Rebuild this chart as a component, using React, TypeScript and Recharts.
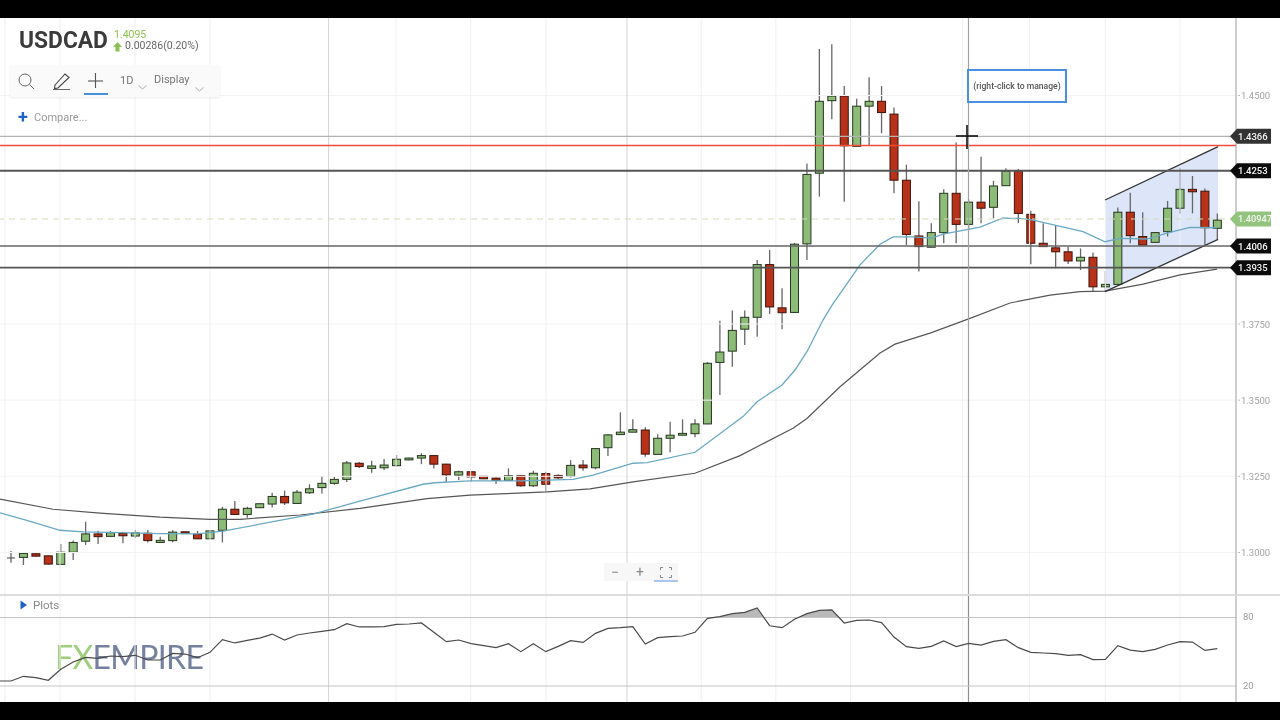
import { Area, Bar, ComposedChart, Line, ReferenceLine, XAxis, YAxis } from 'recharts'

const opens = [1.2982, 1.2984, 1.2996, 1.2989, 1.2961, 1.3001, 1.3037, 1.3061, 1.3053, 1.3063, 1.3054, 1.3063, 1.3033, 1.3039, 1.3068, 1.306, 1.3045, 1.3073, 1.3142, 1.3125, 1.3147, 1.3159, 1.3184, 1.3161, 1.3196, 1.3213, 1.3227, 1.324, 1.3293, 1.3276, 1.3278, 1.3285, 1.3304, 1.331, 1.3318, 1.329, 1.3254, 1.3265, 1.325, 1.3244, 1.3237, 1.3252, 1.3219, 1.3259, 1.3253, 1.325, 1.3287, 1.3278, 1.3344, 1.3387, 1.3395, 1.3402, 1.3322, 1.3375, 1.3385, 1.339, 1.3422, 1.3624, 1.3661, 1.3733, 1.3772, 1.3945, 1.3803, 1.3788, 1.4013, 1.4245, 1.4483, 1.4498, 1.4333, 1.4465, 1.4481, 1.4439, 1.4222, 1.4039, 1.4002, 1.405, 1.4179, 1.4077, 1.415, 1.4133, 1.4204, 1.4252, 1.411, 1.4015, 1.4, 1.3987, 1.3957, 1.3969, 1.3872, 1.388, 1.4117, 1.4037, 1.4018, 1.4053, 1.413, 1.4192, 1.4186, 1.4064]
const highs = [1.3005, 1.2998, 1.2997, 1.299, 1.3028, 1.3039, 1.3101, 1.3071, 1.3071, 1.3068, 1.3074, 1.3074, 1.3052, 1.3073, 1.3069, 1.3071, 1.3074, 1.315, 1.3169, 1.315, 1.3161, 1.3196, 1.3203, 1.3205, 1.3224, 1.3251, 1.3248, 1.33, 1.3297, 1.3301, 1.3307, 1.332, 1.3311, 1.3326, 1.332, 1.3291, 1.3268, 1.3266, 1.3251, 1.3246, 1.3276, 1.3254, 1.3268, 1.3265, 1.3257, 1.3303, 1.3304, 1.3342, 1.3389, 1.346, 1.3437, 1.3411, 1.3388, 1.3429, 1.3437, 1.3437, 1.3625, 1.3761, 1.3794, 1.3794, 1.396, 1.3993, 1.3867, 1.4016, 1.4277, 1.4653, 1.4668, 1.4531, 1.4489, 1.456, 1.4531, 1.4461, 1.4273, 1.4153, 1.4081, 1.4192, 1.4346, 1.416, 1.4299, 1.422, 1.4261, 1.4259, 1.4122, 1.4081, 1.4075, 1.4004, 1.3998, 1.3985, 1.3924, 1.4132, 1.4181, 1.4117, 1.4052, 1.4154, 1.4263, 1.4236, 1.4195, 1.4113]
const lows = [1.2966, 1.2959, 1.2987, 1.296, 1.2959, 1.2975, 1.3025, 1.3028, 1.3052, 1.303, 1.3048, 1.3033, 1.3032, 1.3034, 1.3062, 1.3044, 1.3044, 1.3033, 1.3125, 1.3114, 1.3146, 1.3148, 1.3156, 1.3159, 1.3192, 1.3194, 1.3222, 1.3231, 1.3277, 1.3262, 1.3271, 1.3282, 1.3303, 1.329, 1.3276, 1.3231, 1.3238, 1.3232, 1.3241, 1.3225, 1.3235, 1.3216, 1.3216, 1.3198, 1.3241, 1.3246, 1.3268, 1.3273, 1.3317, 1.3387, 1.3395, 1.3314, 1.3322, 1.3329, 1.3385, 1.3378, 1.3421, 1.3517, 1.361, 1.3681, 1.3708, 1.3783, 1.3733, 1.3788, 1.396, 1.4168, 1.4422, 1.4151, 1.4333, 1.4335, 1.4376, 1.4179, 1.4009, 1.3922, 1.4002, 1.4015, 1.4015, 1.406, 1.4081, 1.4097, 1.4204, 1.4081, 1.3946, 1.4004, 1.3933, 1.3947, 1.3927, 1.3856, 1.3856, 1.388, 1.4015, 1.4009, 1.4016, 1.4037, 1.4113, 1.4113, 1.4004, 1.4029]
const closes = [1.2982, 1.2997, 1.2988, 1.2962, 1.3001, 1.3033, 1.3061, 1.3052, 1.3065, 1.3055, 1.3064, 1.3039, 1.304, 1.3067, 1.3063, 1.3045, 1.3071, 1.3142, 1.3125, 1.3145, 1.316, 1.3184, 1.3163, 1.3198, 1.3209, 1.3227, 1.324, 1.3294, 1.3282, 1.3284, 1.3287, 1.3306, 1.331, 1.3318, 1.329, 1.3255, 1.3265, 1.3248, 1.3242, 1.3237, 1.3252, 1.3219, 1.326, 1.3224, 1.3245, 1.3286, 1.3278, 1.3341, 1.3386, 1.3395, 1.3403, 1.3323, 1.3375, 1.3385, 1.3391, 1.3422, 1.3621, 1.3658, 1.3729, 1.3772, 1.3945, 1.3806, 1.3787, 1.4012, 1.4241, 1.4481, 1.4498, 1.4335, 1.4465, 1.4481, 1.4444, 1.4222, 1.4044, 1.4004, 1.405, 1.4179, 1.4077, 1.415, 1.413, 1.4203, 1.4252, 1.4113, 1.4015, 1.4004, 1.3987, 1.3957, 1.3969, 1.3872, 1.388, 1.4117, 1.404, 1.4009, 1.405, 1.413, 1.4192, 1.4184, 1.4066, 1.4091]

const blueMaX = [-0.88, 1.13, 3.94, 5.79, 7.96, 11.98, 14.96, 17.05, 21.07, 24.28, 28.06, 33.13, 34.09, 36.91, 40.93, 45.19, 46.8, 50.02, 51.14, 55, 58.86, 59.99, 62, 63.04, 64, 65.29, 66.02, 68.27, 69.88, 70.92, 72.53, 74.06, 74.94, 77.92, 79.77, 80.33, 81.14, 82.18, 86.2, 87.97, 89.18, 91.35, 92.96, 94.8, 96.98]
const blueMaV = [1.313, 1.3107, 1.3073, 1.3068, 1.3066, 1.3062, 1.3061, 1.307, 1.3101, 1.3126, 1.3169, 1.3224, 1.3229, 1.3235, 1.3235, 1.324, 1.3254, 1.3293, 1.3295, 1.3329, 1.3446, 1.3495, 1.355, 1.3599, 1.3659, 1.3763, 1.3812, 1.3944, 1.4012, 1.4036, 1.4036, 1.4032, 1.4045, 1.4068, 1.4098, 1.4097, 1.4097, 1.4091, 1.4053, 1.402, 1.4031, 1.4029, 1.4048, 1.4067, 1.4066]
const darkMaX = [-0.88, 3.38, 7.16, 11.98, 16, 18.41, 23.24, 28.06, 33.45, 36.91, 43.1, 46.56, 50.02, 55, 58.62, 62.88, 64, 66.66, 69.88, 71.08, 73.9, 76.95, 80.33, 83.55, 85.96, 87.97, 91.03, 94, 96.98]
const darkMaV = [1.3175, 1.3142, 1.3129, 1.3116, 1.3109, 1.3109, 1.3123, 1.3145, 1.3177, 1.3188, 1.3199, 1.3209, 1.3232, 1.326, 1.3318, 1.3408, 1.344, 1.3544, 1.3655, 1.3684, 1.372, 1.3766, 1.3819, 1.3845, 1.3856, 1.3858, 1.3881, 1.3911, 1.393]

const rsiValues = [24.4, 28.5, 27.3, 25, 34.6, 41, 45.1, 44.2, 46.3, 45.7, 46.9, 42.8, 42.8, 48.6, 48, 44.8, 49.5, 60.6, 57.7, 60, 62, 65.5, 60.3, 64.7, 66.4, 67.9, 69.3, 74.6, 71.7, 71.7, 72, 74, 74.3, 75.2, 67, 58.8, 60.3, 57.1, 55.3, 53.6, 57.1, 50.1, 57.1, 50.1, 54.7, 59.7, 58.2, 66.1, 70.5, 71.1, 72, 56.8, 62.3, 63.2, 63.8, 67, 79.3, 80.7, 83.4, 84.5, 88.3, 72.8, 71.1, 78.4, 83.4, 86.3, 86.6, 75.2, 77.5, 77.8, 75.5, 62.9, 54.5, 53, 54.7, 59.4, 54.5, 57.4, 55.9, 59.1, 60.6, 53.6, 49.5, 48.9, 48.3, 46.9, 47.4, 43.1, 43.4, 55.3, 51.5, 50.1, 52.1, 55.9, 58.8, 58.5, 51.2, 52.7]
const overboughtX = [56.5, 57, 58, 59, 60, 60.54]
const overboughtV = [80, 80.7, 83.4, 84.5, 88.3, 80]
const overboughtX2 = [63.32, 64, 65, 66, 66.58]
const overboughtV2 = [80, 83.4, 86.3, 86.6, 80]

const priceTicks = [1.3, 1.325, 1.35, 1.375, 1.45]
const priceTags = [
  { value: 1.4366, text: '1.4366', fill: '#333333' },
  { value: 1.4253, text: '1.4253', fill: '#0c0c0c' },
  { value: 1.40947, text: '1.40947', fill: '#93c47d' },
  { value: 1.4006, text: '1.4006', fill: '#0c0c0c' },
  { value: 1.3935, text: '1.3935', fill: '#0c0c0c' },
]
const gridX = [-0.48, 3.94, 9.97, 16, 30.96, 36.96, 43.02, 55.5, 61.5, 67.5, 76.5, 81.9, 88, 94]
const monthX = [25.54, 49.53]
const cursorX = 76.99
const channelX = [87.97, 97.06]
const channelUpper = [1.4157, 1.4332]
const channelLower = [1.3856, 1.4028]

const candles = opens.map((open, i) => ({ i, open, high: highs[i], low: lows[i], close: closes[i] }))
const blueMa = blueMaX.map((i, k) => ({ i, v: blueMaV[k] }))
const darkMa = darkMaX.map((i, k) => ({ i, v: darkMaV[k] }))
const rsi = [{ i: -0.88, v: rsiValues[0] }, ...rsiValues.map((v, i) => ({ i, v }))]
const shade1 = overboughtX.map((i, k) => ({ i, band: [80, overboughtV[k]] }))
const shade2 = overboughtX2.map((i, k) => ({ i, band: [80, overboughtV2[k]] }))
const channel = channelX.map((i, k) => ({ i, band: [channelLower[k], channelUpper[k]], up: channelUpper[k], down: channelLower[k] }))

const xDomain = [-0.885, 98.5]
const font = 'Roboto, sans-serif'
const bodyWidth = 8

function Candle({ x, y, width, height, payload }: any) {
  const { open, high, low, close } = payload
  const h = Math.abs(height)
  const perUnit = h / (high - low)
  const top = y + (high - Math.max(open, close)) * perUnit
  const bodyH = Math.abs(open - close) * perUnit
  const cx = x + width / 2
  const up = close >= open
  const doji = bodyH === 0
  return (
    <g>
      <line x1={cx} x2={cx} y1={y} y2={y + h} stroke="#666" strokeWidth={1.3} />
      {doji ? (
        <line x1={cx - 4} x2={cx + 4} y1={top} y2={top} stroke="#444" strokeWidth={1} />
      ) : (
        <rect x={cx - bodyWidth / 2} y={top} width={bodyWidth} height={bodyH} fill={up ? '#8dbb78' : '#b8321a'} stroke={up ? '#26361f' : '#3d120a'} strokeWidth={1} />
      )}
    </g>
  )
}

function PriceTick({ x, y, payload }: any) {
  const tag = priceTags.find((t) => t.value === payload.value)
  if (!tag) {
    return (
      <g>
        <line x1={x + 2} x2={x + 4} y1={y} y2={y} stroke="#bbb" />
        <text x={x + 5} y={y + 3.5} fontSize={9.5} fontFamily={font} fill="#a2a2a2">{payload.value.toFixed(4)}</text>
      </g>
    )
  }
  const right = x + 35
  return (
    <g>
      <polygon points={`${x - 6},${y} ${x + 1},${y - 7.5} ${right},${y - 7.5} ${right},${y + 7.5} ${x + 1},${y + 7.5}`} fill={tag.fill} />
      <text x={x + 2} y={y + 3.5} fontSize={tag.text.length > 6 ? 9.2 : 9.5} fontWeight={500} fontFamily={font} fill="#f4f4f4">{tag.text}</text>
    </g>
  )
}

function RsiTick({ x, y, payload }: any) {
  return <text x={x + 7} y={y + 3} fontSize={9.5} fontFamily={font} fill="#9a9a9a">{payload.value}</text>
}

function Chevron({ left, top }: { left: number; top: number }) {
  return (
    <svg style={{ position: 'absolute', left, top }} width={9} height={5}>
      <path d="M0.5 0.5 L4.5 4 L8.5 0.5" fill="none" stroke="#999" strokeWidth={0.8} />
    </svg>
  )
}

function label(left: number, top: number, text: string, style: any = {}) {
  return <div style={{ position: 'absolute', left, top, fontFamily: font, whiteSpace: 'nowrap', lineHeight: 1, ...style }}>{text}</div>
}

export default function App() {
  return (
    <div style={{ position: 'absolute', left: 0, top: 0, width: 1280, height: 720, overflow: 'hidden', background: '#fff', filter: 'blur(0.35px)' }}>
      {/* watermark sits under the plots */}
      <div style={{ position: 'absolute', left: 55, top: 641, fontFamily: 'Lato, sans-serif', fontSize: 32, lineHeight: 1, letterSpacing: -0.7, whiteSpace: 'nowrap' }}>
        <span style={{ color: '#9fce7e' }}>FX</span>
        <span style={{ color: '#76819f' }}>EMPIRE</span>
      </div>

      <div style={{ position: 'absolute', left: 0, top: 0 }}>
        <ComposedChart width={1280} height={595} data={candles} margin={{ top: 18, right: 0, bottom: 0, left: 0 }}>
          <XAxis type="number" dataKey="i" domain={xDomain} allowDataOverflow hide />
          <YAxis type="number" orientation="right" width={44} domain={[1.28605, 1.47544]} allowDataOverflow ticks={[...priceTicks, ...priceTags.map((t) => t.value)]} interval={0} tick={<PriceTick />} tickLine={false} tickSize={0} tickMargin={0} axisLine={{ stroke: '#9c9c9c' }} />
          {priceTicks.map((p) => <ReferenceLine key={p} y={p} stroke="#f3f3f3" />)}
          {gridX.map((v) => <ReferenceLine key={v} x={v} stroke="#f0f0f0" />)}
          {monthX.map((v) => <ReferenceLine key={v} x={v} stroke="#d2d2d2" />)}
          <Area data={channel} dataKey="band" type="linear" stroke="none" fill="#dde6f8" fillOpacity={1} dot={false} activeDot={false} isAnimationActive={false} />
          <Line data={darkMa} dataKey="v" type="linear" stroke="#565656" strokeWidth={1.2} dot={false} activeDot={false} isAnimationActive={false} />
          <Line data={blueMa} dataKey="v" type="linear" stroke="#6aa9c2" strokeWidth={1.3} dot={false} activeDot={false} isAnimationActive={false} />
          <Bar dataKey={(d: any) => [d.low, d.high]} barSize={8} shape={<Candle />} isAnimationActive={false} />
          <Line data={channel} dataKey="up" type="linear" stroke="#333" strokeWidth={1.3} dot={false} activeDot={false} isAnimationActive={false} />
          <Line data={channel} dataKey="down" type="linear" stroke="#333" strokeWidth={1.3} dot={false} activeDot={false} isAnimationActive={false} />
          <ReferenceLine y={1.4366} stroke="#b3b3b3" strokeWidth={1.2} />
          <ReferenceLine y={1.43359} stroke="#ee4b3a" strokeWidth={1.5} />
          <ReferenceLine y={1.4253} stroke="#555" strokeWidth={2} />
          <ReferenceLine y={1.40947} stroke="#d3dcbd" strokeDasharray="6 5" />
          <ReferenceLine y={1.4006} stroke="#666" strokeWidth={1.6} />
          <ReferenceLine y={1.3935} stroke="#555" strokeWidth={1.6} />
          <ReferenceLine x={cursorX} stroke="#a2a2a2" strokeWidth={1.2} />
        </ComposedChart>
      </div>

      <div style={{ position: 'absolute', left: 0, top: 595 }}>
        <ComposedChart width={1280} height={107} data={rsi} margin={{ top: 0, right: 0, bottom: 0, left: 0 }}>
          <XAxis type="number" dataKey="i" domain={xDomain} allowDataOverflow hide />
          <YAxis type="number" orientation="right" width={44} domain={[6, 99.7]} allowDataOverflow ticks={[20, 80]} interval={0} tick={<RsiTick />} tickLine={false} tickSize={0} tickMargin={0} axisLine={{ stroke: '#9c9c9c' }} />
          {gridX.map((v) => <ReferenceLine key={v} x={v} stroke="#f0f0f0" />)}
          {monthX.map((v) => <ReferenceLine key={v} x={v} stroke="#d2d2d2" />)}
          <ReferenceLine x={cursorX} stroke="#8c8c8c" strokeWidth={1.2} />
          <ReferenceLine y={80} stroke="#c4c4c4" />
          <ReferenceLine y={20} stroke="#c4c4c4" />
          <Area data={shade1} dataKey="band" type="linear" stroke="none" fill="#b9b9b9" fillOpacity={1} dot={false} activeDot={false} isAnimationActive={false} />
          <Area data={shade2} dataKey="band" type="linear" stroke="none" fill="#b9b9b9" fillOpacity={1} dot={false} activeDot={false} isAnimationActive={false} />
          <Line dataKey="v" type="linear" stroke="#4a4a4a" strokeWidth={1.2} dot={false} activeDot={false} isAnimationActive={false} />
        </ComposedChart>
      </div>

      <div style={{ position: 'absolute', left: 0, top: 594, width: 1280, height: 2, background: '#dcdcdc' }} />

      {/* header and toolbar */}
      {label(19, 28, 'USDCAD', { fontSize: 24, fontWeight: 700, color: '#3b3b3b', transform: 'scaleX(0.95)', transformOrigin: 'left' })}
      {label(114, 30, '1.4095', { fontSize: 10.5, color: '#8cc152' })}
      {label(125, 41, '0.00286(0.20%)', { fontSize: 10.5, color: '#666' })}
      <svg style={{ position: 'absolute', left: 112, top: 41 }} width={12} height={12}>
        <path d="M5.5 1 L10 6 L7.5 6 L7.5 10.5 L3.5 10.5 L3.5 6 L1 6 Z" fill="#8cc152" />
      </svg>

      <div style={{ position: 'absolute', left: 10, top: 65, width: 210, height: 32, background: '#fafafa', boxShadow: '0 1px 2px rgba(0,0,0,0.08)' }} />
      <svg style={{ position: 'absolute', left: 15, top: 70 }} width={100} height={26}>
        <circle cx={10} cy={10} r={6} fill="none" stroke="#666" strokeWidth={1} />
        <line x1={14.5} y1={14.5} x2={19} y2={19} stroke="#666" strokeWidth={1} />
        <path d="M40 15 L50 4 L54 7.5 L43 18 L39.5 18.5 Z" fill="none" stroke="#444" strokeWidth={1.1} />
        <line x1={38} y1={19.5} x2={55} y2={19.5} stroke="#666" strokeWidth={1} />
        <line x1={73} y1={11} x2={88} y2={11} stroke="#555" strokeWidth={1.1} />
        <line x1={80.5} y1={3} x2={80.5} y2={18} stroke="#555" strokeWidth={1.1} />
        <rect x={69} y={23} width={24} height={2} fill="#4a90d9" />
      </svg>
      {label(120, 75, '1D', { fontSize: 11, color: '#777' })}
      <Chevron left={138} top={85} />
      {label(154, 74, 'Display', { fontSize: 11, color: '#777' })}
      <Chevron left={195} top={87} />

      {label(18, 108, '+', { fontSize: 18, fontWeight: 700, color: '#1f63c4' })}
      {label(34, 112, 'Compare...', { fontSize: 11, color: '#999' })}

      {/* channel note and cursor */}
      <div style={{ position: 'absolute', left: 967, top: 69, width: 96, height: 30, border: '2px solid #4a90e2', background: '#fff', fontFamily: font, fontSize: 8.6, fontWeight: 500, color: '#555', textAlign: 'center', lineHeight: '30px', whiteSpace: 'nowrap' }}>(right-click to manage)</div>
      <svg style={{ position: 'absolute', left: 955, top: 124 }} width={24} height={26}>
        <line x1={1} y1={12} x2={23} y2={12} stroke="#111" strokeWidth={1.6} />
        <line x1={12} y1={1} x2={12} y2={25} stroke="#111" strokeWidth={1.6} />
      </svg>

      {/* zoom buttons */}
      <div style={{ position: 'absolute', left: 604, top: 563, width: 74, height: 18, background: '#f7f7f7' }} />
      {label(611, 565, '−', { fontSize: 14, color: '#888' })}
      {label(636, 565, '+', { fontSize: 14, color: '#888' })}
      <svg style={{ position: 'absolute', left: 660, top: 567 }} width={12} height={11}>
        <path d="M0.5 3 V0.5 H3 M9 0.5 H11.5 V3 M11.5 8 V10.5 H9 M3 10.5 H0.5 V8" fill="none" stroke="#888" />
      </svg>
      <div style={{ position: 'absolute', left: 654, top: 580, width: 24, height: 1.5, background: '#a9c7ea' }} />

      <svg style={{ position: 'absolute', left: 20, top: 600 }} width={8} height={10}>
        <path d="M0.5 0.5 L7 5 L0.5 9.5 Z" fill="#1f63c4" />
      </svg>
      {label(33, 600, 'Plots', { fontSize: 11.5, color: '#888' })}

      <div style={{ position: 'absolute', left: 0, top: 0, width: 1280, height: 18, background: '#000' }} />
      <div style={{ position: 'absolute', left: 0, top: 702, width: 1280, height: 18, background: '#000' }} />
    </div>
  )
}
